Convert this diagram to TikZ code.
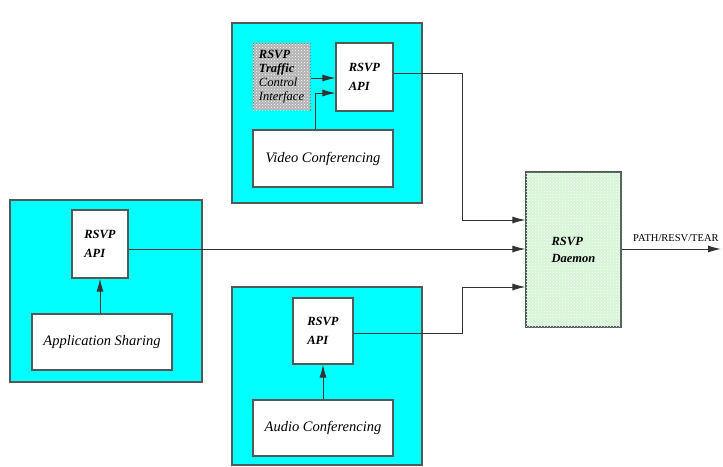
\documentclass[tikz,border=0pt]{standalone}
\usepackage{fontspec}
\setmainfont{Liberation Serif}
\usetikzlibrary{arrows.meta,patterns}
\definecolor{hostcyan}{RGB}{0,255,255}
\definecolor{daemongreen}{RGB}{214,245,214}
\definecolor{edgegray}{RGB}{80,90,90}
\tikzset{
  host/.style={draw=edgegray,line width=1.2pt,fill=hostcyan},
  inbox/.style={draw=edgegray,line width=1.1pt,fill=white,inner sep=0pt,
    font=\fontsize{14.5}{18}\selectfont\itshape,align=center},
  apibox/.style={draw=edgegray,line width=1.1pt,fill=white,inner sep=0pt,
    font=\fontsize{12.5}{19}\selectfont\bfseries\itshape,align=left},
  arr/.style={draw=black!80,line width=1pt,-{Latex[length=13pt,width=7pt]}},
  wire/.style={draw=black!80,line width=1pt}
}
\begin{document}
\begin{tikzpicture}[x=1pt,y=-1pt]
\clip (0,0) rectangle (723,466);
\fill[white] (0,0) rectangle (723,466);

% application hosts
\path[host] (232,23) rectangle (422,203);
\path[host] (10,200) rectangle (202,382);
\path[host] (232,287) rectangle (422,465);

% video conferencing host
\node[draw=gray,dotted,line width=1pt,fill=gray!60,
      postaction={pattern=crosshatch dots,pattern color=white},
      minimum width=57pt,minimum height=67pt,inner sep=0pt,
      font=\fontsize{12.5}{14}\selectfont\itshape,align=left]
  (tci) at (281.5,76.5) {\textbf{RSVP}\\\textbf{Traffic}\\Control\\Interface};
\node[apibox,minimum width=57pt,minimum height=68pt] (topapi) at (364.5,77) {RSVP\\API};
\node[inbox,minimum width=140pt,minimum height=57pt] (video) at (323,158.5) {Video Conferencing};

% application sharing host
\node[apibox,minimum width=56pt,minimum height=68pt] (leftapi) at (100,244) {RSVP\\API};
\node[inbox,minimum width=140pt,minimum height=56pt] (app) at (102,342) {Application Sharing};

% audio conferencing host
\node[apibox,minimum width=60pt,minimum height=66pt] (botapi) at (323,331) {RSVP\\API};
\node[inbox,minimum width=140pt,minimum height=56pt] (audio) at (323,428) {Audio Conferencing};

% daemon
\node[draw=edgegray,line width=1.1pt,fill=daemongreen,
      postaction={pattern=crosshatch dots,pattern color=white},
      minimum width=95pt,minimum height=155pt,inner sep=0pt,
      font=\fontsize{12.5}{17}\selectfont\bfseries\itshape,align=left]
  (daemon) at (573.5,249.5) {RSVP\\Daemon};

% junction points
\coordinate (tcy) at (0,78);
\coordinate (vj) at (315,93);
\coordinate (topout) at (0,73);
\coordinate (botout) at (0,333);
\coordinate (bus) at (462,0);
\coordinate (din1) at (0,220);
\coordinate (din2) at (0,249);
\coordinate (din3) at (0,287);
\coordinate (outend) at (721,249);

% local arrows
\draw[arr] (tci.east |- tcy) -- (topapi.west |- tcy);
\draw[arr] (video.north -| vj) -- (vj) -- (topapi.west |- vj);
\draw[arr] (app.north -| leftapi.south) -- (leftapi.south);
\draw[arr] (audio.north) -- (botapi.south);

% links to the daemon
\draw[arr] (topapi.east |- topout) -| (bus |- din1) -- (daemon.west |- din1);
\draw[arr] (leftapi.east |- din2) -- (daemon.west |- din2);
\draw[arr] (botapi.east |- botout) -| (bus |- din3) -- (daemon.west |- din3);

% daemon output
\draw[arr] (daemon.east |- din2) -- (outend);
\node[anchor=base west,inner sep=0pt,font=\fontsize{10.5}{12}\selectfont] (msg) at (633,241) {PATH/RESV/TEAR};
\end{tikzpicture}
\end{document}
